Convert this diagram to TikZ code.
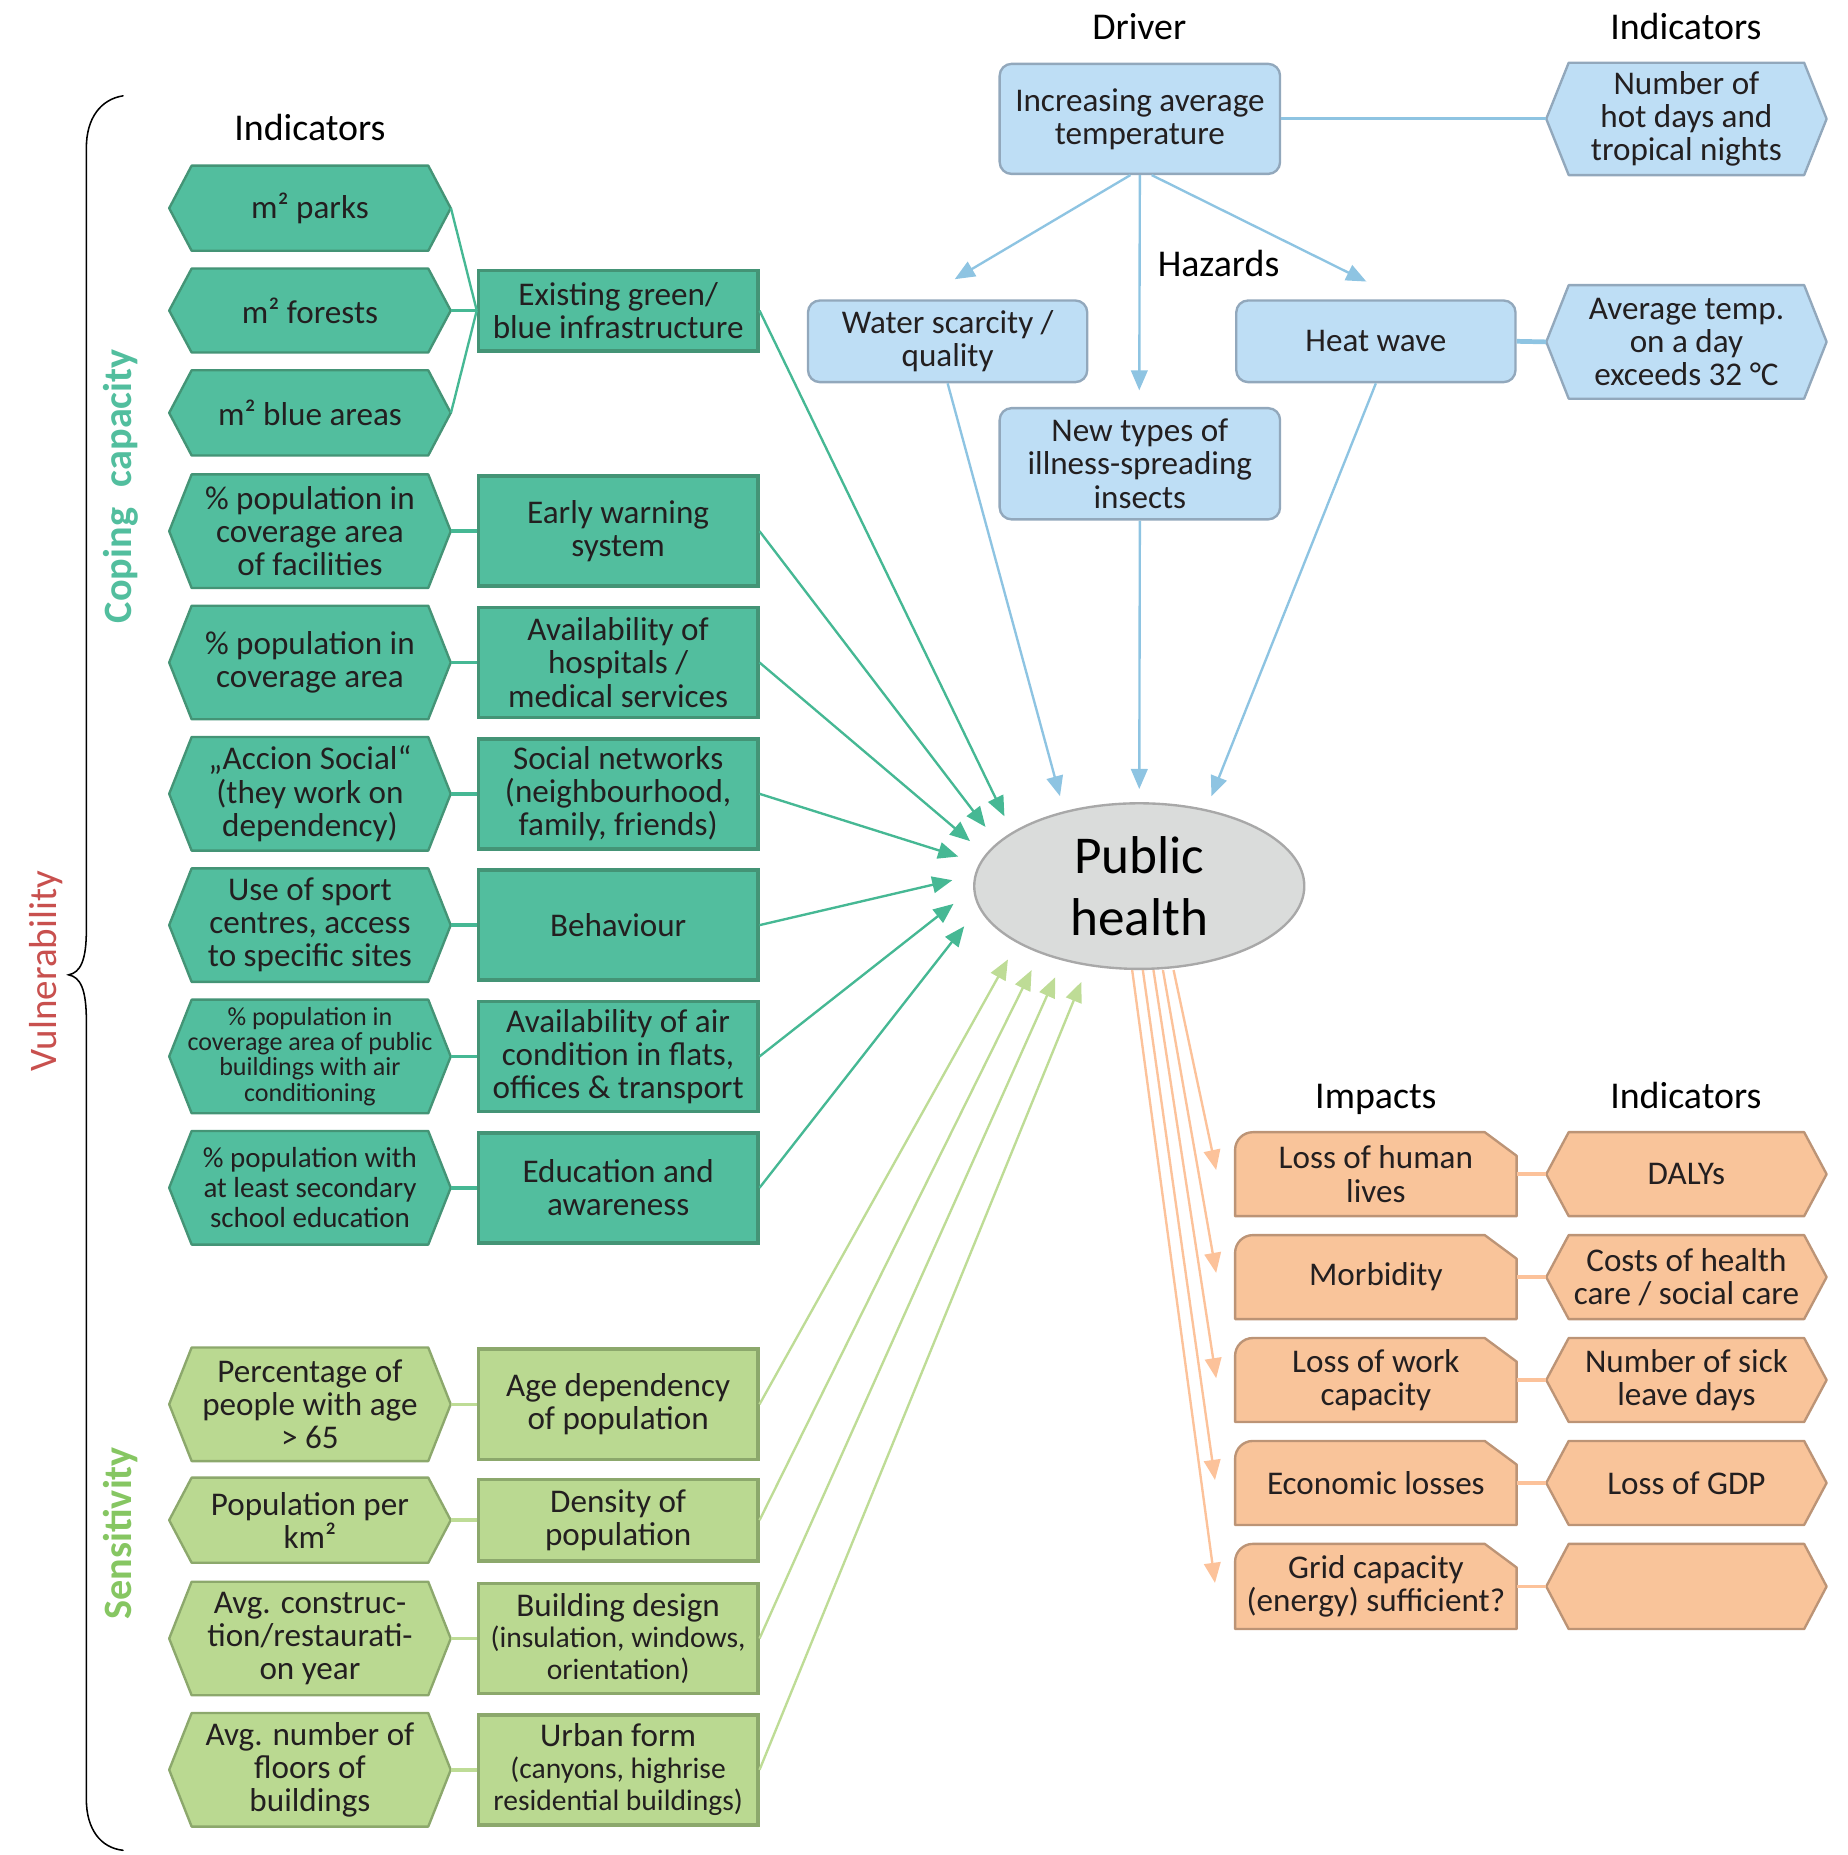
\documentclass[tikz,border=0pt]{standalone}
\usepackage{fontspec}
\setmainfont{Carlito}
\usetikzlibrary{arrows.meta,shapes.geometric,calc}

\definecolor{cgF}{RGB}{82,190,158}
\definecolor{cgD}{RGB}{68,148,118}
\definecolor{cgL}{RGB}{70,184,148}
\definecolor{sgF}{RGB}{186,217,145}
\definecolor{sgD}{RGB}{140,168,108}
\definecolor{sgL}{RGB}{190,220,150}
\definecolor{sgT}{RGB}{134,198,98}
\definecolor{blF}{RGB}{190,222,245}
\definecolor{blD}{RGB}{146,168,188}
\definecolor{blL}{RGB}{142,196,226}
\definecolor{orF}{RGB}{249,196,154}
\definecolor{orD}{RGB}{188,148,118}
\definecolor{orL}{RGB}{252,194,154}
\definecolor{phF}{RGB}{218,220,219}
\definecolor{phD}{RGB}{168,168,168}
\definecolor{vulR}{RGB}{200,80,78}
\definecolor{txtc}{RGB}{35,31,32}

\tikzset{
  txt/.style={font=\fontsize{28}{28}\selectfont, text=txtc, align=center, inner sep=0pt},
  head/.style={font=\fontsize{32}{32}\selectfont, text=black, inner sep=0pt, anchor=base},
  cghex/.style={fill=cgF, draw=cgD, line width=2pt, line join=round},
  sghex/.style={fill=sgF, draw=sgD, line width=2pt, line join=round},
  blhex/.style={fill=blF, draw=blD, line width=2pt, line join=round},
  orhex/.style={fill=orF, draw=orD, line width=2pt, line join=round},
  impst/.style={fill=orF, draw=orD, line width=2pt, line join=round},
  cgbox/.style={txt, rectangle, draw=cgD, fill=cgF, line width=3pt, minimum width=236pt},
  sgbox/.style={txt, rectangle, draw=sgD, fill=sgF, line width=3pt, minimum width=236pt},
  blbox/.style={txt, rectangle, rounded corners=10pt, draw=blD, fill=blF, line width=2pt, minimum width=237pt},
  tip/.style={-{Triangle[length=17pt,width=14pt]}},
  cgarrow/.style={draw=cgL, line width=2pt, tip},
  sgarrow/.style={draw=sgL, line width=2pt, tip},
  blarrow/.style={draw=blL, line width=2pt, tip},
  orarrow/.style={draw=orL, line width=2pt, tip},
  cgconn/.style={draw=cgL, line width=3pt},
  cgthin/.style={draw=cgL, line width=2pt},
  sgconn/.style={draw=sgL, line width=3pt},
  blconn/.style={draw=blL, line width=2.5pt},
  orconn/.style={draw=orL, line width=3pt},
}

% name, shape style, node options, cx, cy, w, h, text
\newcommand\hexbox[8]{%
  \path[#2] (#4-#6/2,#5) -- (#4-#6/2+19,#5-#7/2) -- (#4+#6/2-19,#5-#7/2) -- (#4+#6/2,#5) -- (#4+#6/2-19,#5+#7/2) -- (#4-#6/2+19,#5+#7/2) -- cycle;
  \node[txt, minimum width=#6pt, minimum height=#7pt, #3] (#1) at (#4,#5) {#8};}

% name, cx, cy, w, h, text
\newcommand\impbox[6]{%
  \path[impst] (#2-#4/2,#3+#5/2) -- (#2-#4/2,#3-#5/2+15) arc[start angle=180, end angle=90, radius=15pt] -- (#2+#4/2-27,#3-#5/2) -- (#2+#4/2,#3-#5/2+20) -- (#2+#4/2,#3+#5/2) -- cycle;
  \node[txt, minimum width=#4pt, minimum height=#5pt] (#1) at (#2,#3) {#6};}

\begin{document}
\begin{tikzpicture}[x=1pt, y=-1pt]
\useasboundingbox (0,0) rectangle (1562,1568);

% headings
\node[head] (hDriver) at (963,33) {Driver};
\node[head] (hInd1) at (1425,33) {Indicators};
\node[head] (hInd0) at (262,119) {Indicators};
\node[head] (hHaz) at (1030,234) {Hazards};
\node[head] (hImp) at (1163,937) {Impacts};
\node[head] (hInd2) at (1425,937) {Indicators};

% side labels
\node[rotate=90, font=\fontsize{33}{33}\selectfont, text=vulR, inner sep=0pt] (lVul) at (39,821) {Vulnerability};
\node[rotate=90, font=\fontsize{34}{34}\selectfont\bfseries, text=cgF, inner sep=0pt] (lCop) at (102,411) {Coping\hspace{10pt} capacity};
\node[rotate=90, font=\fontsize{34}{34}\selectfont\bfseries, text=sgT, inner sep=0pt] (lSen) at (102,1296) {Sensitivity};

% brace
\draw[line width=1.3pt, line cap=round] (104,81) .. controls (85,84) and (73,100) .. (73,125) -- (73,786)
  .. controls (73,812) and (68,822) .. (58,824) .. controls (68,826) and (73,836) .. (73,863) -- (73,1521)
  .. controls (73,1546) and (85,1562) .. (104,1564);

% driver and hazards
\node[blbox, minimum height=93pt] (drv) at (963.5,100.5) {Increasing average\\temperature};
\hexbox{ind1}{blhex}{}{1425.5}{100.5}{237}{95}{Number of\\hot days and\\tropical nights}
\node[blbox, minimum width=236pt, minimum height=69pt] (wat) at (801,288.5) {Water scarcity /\\quality};
\node[blbox, minimum width=236pt, minimum height=69pt] (heat) at (1163,288.5) {Heat wave};
\hexbox{ind2}{blhex}{}{1425.5}{289}{237}{96}{Average temp.\\on a day\\exceeds 32 °C}
\node[blbox, minimum height=94pt] (ins) at (963.5,392) {New types of\\illness-spreading\\insects};

% public health
\node[ellipse, draw=phD, fill=phF, line width=2pt, minimum width=279pt, minimum height=140pt, inner sep=0pt,
  align=center, font=\fontsize{45}{52}\selectfont, text=black] (ph) at (963,749) {Public\\health};

% coping capacity indicators
\hexbox{i1}{cghex}{}{262}{176}{238}{72}{m² parks}
\hexbox{i2}{cghex}{}{262}{262.5}{238}{71}{m² forests}
\hexbox{i3}{cghex}{}{262}{349}{238}{72}{m² blue areas}
\hexbox{i4}{cghex}{}{262}{449}{238}{96}{\% population in\\coverage area\\of facilities}
\hexbox{i5}{cghex}{}{262}{560}{238}{96}{\% population in\\coverage area}
\hexbox{i6}{cghex}{}{262}{671}{238}{96}{„Accion Social“\\(they work on\\dependency)}
\hexbox{i7}{cghex}{}{262}{782}{238}{96}{Use of sport\\centres, access\\to specific sites}
\hexbox{i8}{cghex}{font=\fontsize{22}{21.5}\selectfont}{262}{893}{238}{96}{\% population in\\coverage area of public\\buildings with air\\conditioning}
\hexbox{i9}{cghex}{font=\fontsize{24.5}{25.5}\selectfont}{262}{1004}{238}{96}{\% population with\\at least secondary\\school education}

% coping capacity components
\node[cgbox, minimum height=68pt] (m1) at (522.5,262.5) {Existing green/\\blue infrastructure};
\node[cgbox, minimum height=93pt] (m2) at (522.5,449) {Early warning\\system};
\node[cgbox, minimum height=93pt] (m3) at (522.5,560) {Availability of\\hospitals /\\medical services};
\node[cgbox, minimum height=93pt] (m4) at (522.5,671) {Social networks\\(neighbourhood,\\family, friends)};
\node[cgbox, minimum height=93pt] (m5) at (522.5,782) {Behaviour};
\node[cgbox, minimum height=93pt] (m6) at (522.5,893) {Availability of air\\condition in flats,\\offices \& transport};
\node[cgbox, minimum height=93pt] (m7) at (522.5,1004) {Education and\\awareness};

% sensitivity indicators
\hexbox{i10}{sghex}{}{262}{1187}{238}{96}{Percentage of\\people with age\\> 65}
\hexbox{i11}{sghex}{}{262}{1285}{238}{72}{Population per\\km²}
\hexbox{i12}{sghex}{}{262}{1385}{238}{96}{Avg. construc-\\tion/restaurati-\\on year}
\hexbox{i13}{sghex}{}{262}{1496}{238}{96}{Avg. number of\\floors of\\buildings}

% sensitivity components
\node[sgbox, minimum height=93pt] (m8) at (522.5,1187) {Age dependency\\of population};
\node[sgbox, minimum height=69pt] (m9) at (522.5,1285) {Density of\\population};
\node[sgbox, minimum height=93pt, font=\fontsize{25}{26.5}\selectfont] (m10) at (522.5,1385) {{\fontsize{28}{28}\selectfont Building design}\\(insulation, windows,\\orientation)};
\node[sgbox, minimum height=93pt, font=\fontsize{25}{27}\selectfont] (m11) at (522.5,1496) {{\fontsize{28}{28}\selectfont Urban form}\\(canyons, highrise\\residential buildings)};

% impacts
\impbox{p1}{1163}{992.5}{238}{71}{Loss of human\\lives}
\impbox{p2}{1163}{1079.5}{238}{71}{Morbidity}
\impbox{p3}{1163}{1166.5}{238}{71}{Loss of work\\capacity}
\impbox{p4}{1163}{1253.5}{238}{71}{Economic losses}
\impbox{p5}{1163}{1341}{238}{72}{Grid capacity\\(energy) sufficient?}
\hexbox{q1}{orhex}{}{1425.5}{992.5}{237}{71}{DALYs}
\hexbox{q2}{orhex}{}{1425.5}{1079.5}{237}{71}{Costs of health\\care / social care}
\hexbox{q3}{orhex}{}{1425.5}{1166.5}{237}{71}{Number of sick\\leave days}
\hexbox{q4}{orhex}{}{1425.5}{1253.5}{237}{71}{Loss of GDP}
\hexbox{q5}{orhex}{}{1425.5}{1341}{237}{72}{}

% arrow tip coordinates
\coordinate (t1) at (849,690);
\coordinate (t2) at (833,699);
\coordinate (t3) at (820,711);
\coordinate (t4) at (810,724);
\coordinate (t5) at (805,744);
\coordinate (t6) at (806,764);
\coordinate (t7) at (815,783);
\coordinate (s1) at (852,811);
\coordinate (s2) at (872,820);
\coordinate (s3) at (892,826);
\coordinate (s4) at (914,830);
\coordinate (b1) at (896,673);
\coordinate (b2) at (963,667);
\coordinate (b3) at (1024,673);
\coordinate (d1) at (807,236);
\coordinate (d2) at (963,330);
\coordinate (d3) at (1155,238);
\coordinate (o1) at (1028,989);
\coordinate (o2) at (1028,1076);
\coordinate (o3) at (1028,1165);
\coordinate (o4) at (1027,1251);
\coordinate (o5) at (1027,1338);

% connectors: indicators to components
\draw[cgthin] (i1.east) -- (m1.west);
\draw[cgconn] (i2.east) -- (m1.west);
\draw[cgthin] (i3.east) -- (m1.west);
\draw[cgconn] (i4.east) -- (m2.west);
\draw[cgconn] (i5.east) -- (m3.west);
\draw[cgconn] (i6.east) -- (m4.west);
\draw[cgconn] (i7.east) -- (m5.west);
\draw[cgconn] (i8.east) -- (m6.west);
\draw[cgconn] (i9.east) -- (m7.west);
\draw[sgconn] (i10.east) -- (m8.west);
\draw[sgconn] (i11.east) -- (m9.west);
\draw[sgconn] (i12.east) -- (m10.west);
\draw[sgconn] (i13.east) -- (m11.west);

% components to public health
\draw[cgarrow] (m1.east) -- (t1);
\draw[cgarrow] (m2.east) -- (t2);
\draw[cgarrow] (m3.east) -- (t3);
\draw[cgarrow] (m4.east) -- (t4);
\draw[cgarrow] (m5.east) -- (t5);
\draw[cgarrow] (m6.east) -- (t6);
\draw[cgarrow] (m7.east) -- (t7);
\draw[sgarrow] (m8.east) -- (s1);
\draw[sgarrow] (m9.east) -- (s2);
\draw[sgarrow] (m10.east) -- (s3);
\draw[sgarrow] (m11.east) -- (s4);

% driver and hazards
\draw[blconn] (drv.east) -- (ind1.west);
\draw[blconn, line width=4pt] (heat.east) -- (ind2.west);
\draw[blarrow] ([xshift=-8pt]drv.south) -- (d1);
\draw[blarrow] (drv.south) -- (d2);
\draw[blarrow] ([xshift=10pt]drv.south) -- (d3);
\draw[blarrow] (wat.south) -- (b1);
\draw[blarrow] (ins.south) -- (b2);
\draw[blarrow] (heat.south) -- (b3);

% public health to impacts
\draw[orarrow] ([xshift=29pt]ph.south) -- (o1);
\draw[orarrow] ([xshift=20pt]ph.south) -- (o2);
\draw[orarrow] ([xshift=12pt]ph.south) -- (o3);
\draw[orarrow] ([xshift=3pt]ph.south) -- (o4);
\draw[orarrow] ([xshift=-6pt]ph.south) -- (o5);
\draw[orconn] (p1.east) -- (q1.west);
\draw[orconn] (p2.east) -- (q2.west);
\draw[orconn] (p3.east) -- (q3.west);
\draw[orconn] (p4.east) -- (q4.west);
\draw[orconn] (p5.east) -- (q5.west);
\end{tikzpicture}
\end{document}
